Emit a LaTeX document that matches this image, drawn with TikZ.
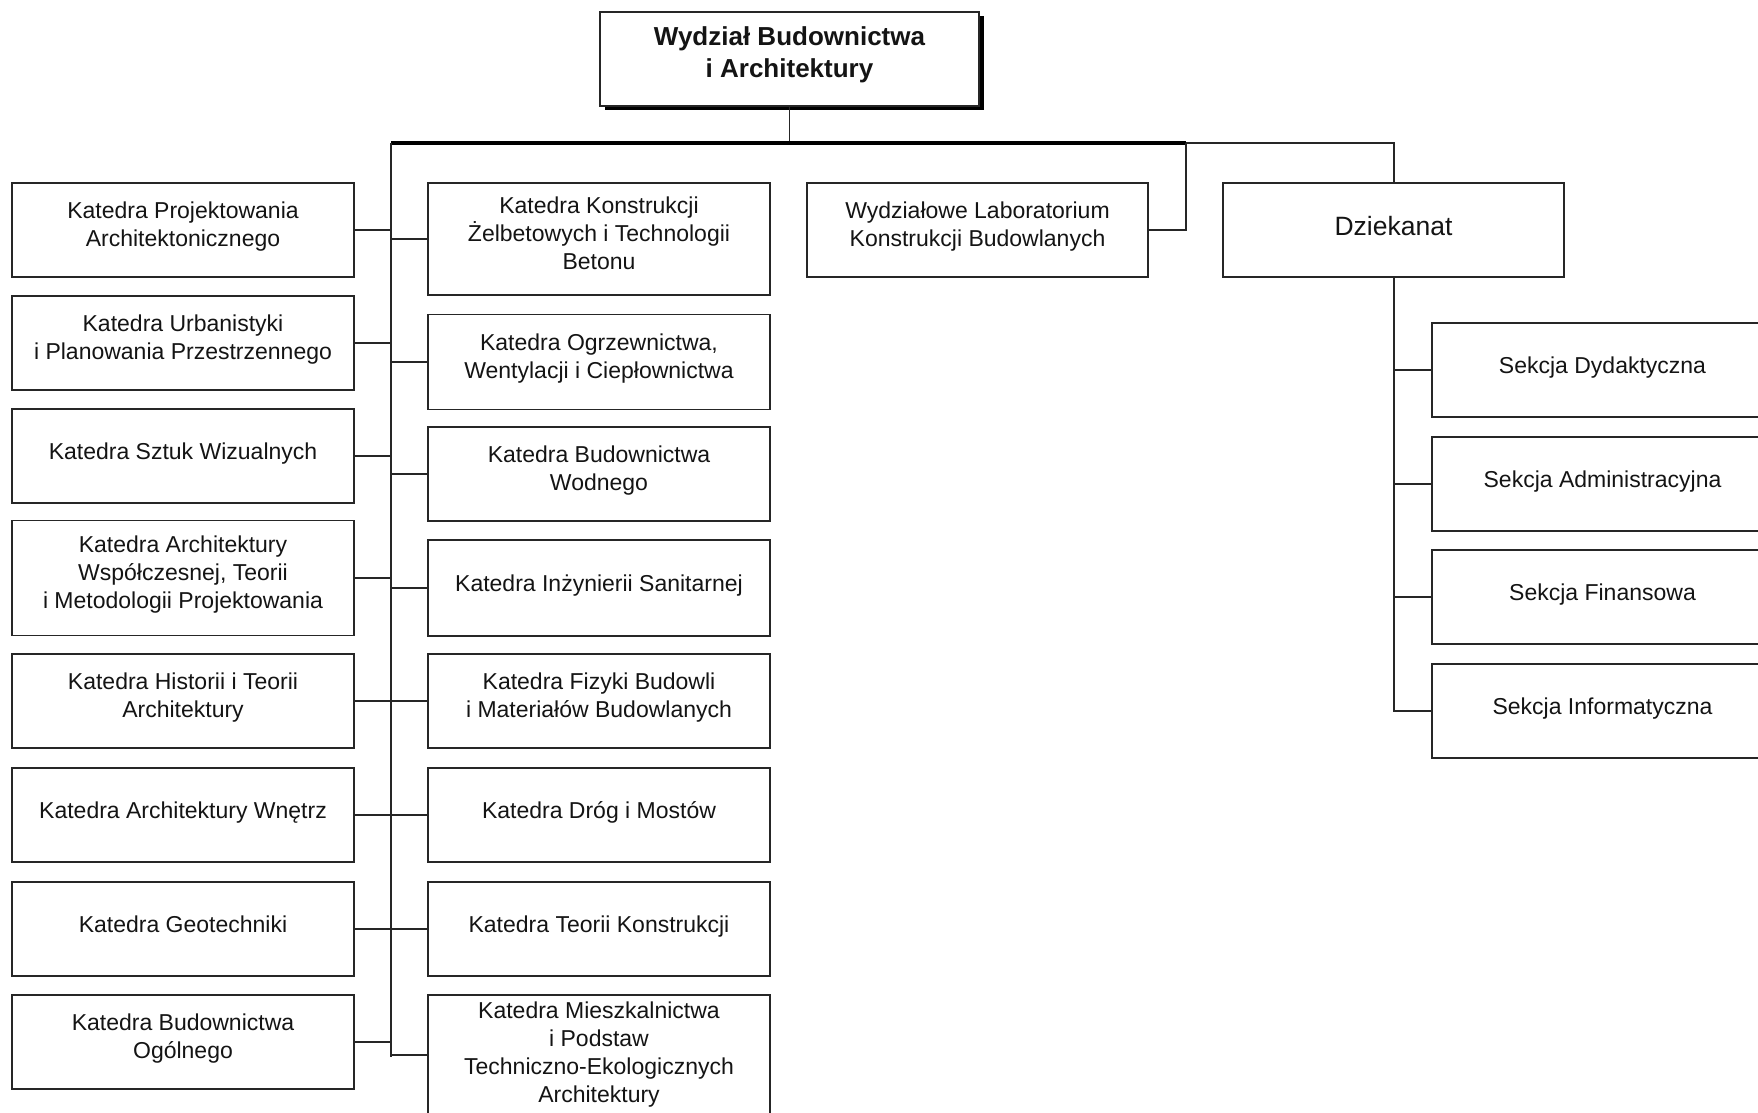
\documentclass[tikz,border=0pt]{standalone}
\usepackage{fontspec}
\setmainfont{Liberation Sans}
\usetikzlibrary{shadows}
\begin{document}
\begin{tikzpicture}[x=1pt, y=-1pt,
  unit/.style={draw=black!85, line width=1.8pt, fill=white, inner sep=0pt,
    align=center, text=black!92, font=\fontsize{23}{28}\selectfont},
  lift/.style={execute at end node={\rule[-#1]{0pt}{0pt}}},
  dept/.style={unit, minimum width=342pt, minimum height=94pt, lift=9pt},
  multi/.style={lift=11pt},
  link/.style={draw=black!85, line width=1.9pt},
  trunk/.style={draw=black, line width=3pt}]
\useasboundingbox (0,0) rectangle (1758,1113);
\clip (0,0) rectangle (1758,1113);

% faculty head
\node[unit, minimum width=379pt, minimum height=94pt, line width=1.6pt,
  font=\bfseries\fontsize{26}{32.5}\selectfont, lift=13.5pt,
  drop shadow={shadow xshift=5pt, shadow yshift=-4pt, fill=black, opacity=1}]
  (wydzial) at (789.5,59) {Wydział Budownictwa\\i Architektury};

% left column of chairs
\node[dept, multi] (L1) at (183,230) {Katedra Projektowania\\Architektonicznego};
\node[dept, multi] (L2) at (183,343) {Katedra Urbanistyki\\i Planowania Przestrzennego};
\node[dept] (L3) at (183,456) {Katedra Sztuk Wizualnych};
\node[dept, multi, minimum height=115pt] (L4) at (183,578) {Katedra Architektury\\Współczesnej, Teorii\\i Metodologii Projektowania};
\node[dept, multi] (L5) at (183,701) {Katedra Historii i Teorii\\Architektury};
\node[dept] (L6) at (183,815) {Katedra Architektury Wnętrz};
\node[dept] (L7) at (183,929) {Katedra Geotechniki};
\node[dept, multi] (L8) at (183,1042) {Katedra Budownictwa\\Ogólnego};

% middle column of chairs
\node[dept, multi, minimum height=112pt] (M1) at (599,239) {Katedra Konstrukcji\\Żelbetowych i Technologii\\Betonu};
\node[dept, multi, minimum height=95pt] (M2) at (599,362) {Katedra Ogrzewnictwa,\\Wentylacji i Ciepłownictwa};
\node[dept, multi] (M3) at (599,474) {Katedra Budownictwa\\Wodnego};
\node[dept, minimum height=96pt] (M4) at (599,588) {Katedra Inżynierii Sanitarnej};
\node[dept, multi] (M5) at (599,701) {Katedra Fizyki Budowli\\i Materiałów Budowlanych};
\node[dept] (M6) at (599,815) {Katedra Dróg i Mostów};
\node[dept] (M7) at (599,929) {Katedra Teorii Konstrukcji};
\node[dept, lift=0pt, minimum height=124pt] (M8) at (599,1057) {Katedra Mieszkalnictwa\\i Podstaw\\Techniczno-Ekologicznych\\Architektury};

% laboratory and dean's office
\node[dept, multi, minimum width=341pt] (lab) at (977.5,230) {Wydziałowe Laboratorium\\Konstrukcji Budowlanych};
\node[dept, minimum width=341pt, lift=4.4pt, font=\fontsize{26.5}{30}\selectfont] (dziekanat) at (1393.5,230) {Dziekanat};

% sections of the dean's office
\node[dept, lift=4.8pt, minimum width=341pt] (S1) at (1602.5,370) {Sekcja Dydaktyczna};
\node[dept, lift=4.8pt, minimum width=341pt] (S2) at (1602.5,484) {Sekcja Administracyjna};
\node[dept, lift=4.8pt, minimum width=341pt] (S3) at (1602.5,597) {Sekcja Finansowa};
\node[dept, lift=4.8pt, minimum width=341pt] (S4) at (1602.5,711) {Sekcja Informatyczna};

% distribution points
\coordinate (bus) at (391,143);
\coordinate (labjoin) at (1186,143);
\coordinate (dzjoin) at (1394,143);

% head to the distribution bar
\draw[link] (wydzial.south) -- (wydzial.south |- bus);
\draw[trunk] (bus) -- (labjoin);
\draw[link] (labjoin) -- (dzjoin) -- (dzjoin |- dziekanat.north);
\draw[link] (lab.east) -| (labjoin);

% vertical bus of the chairs
\draw[link] (bus) -- (bus |- M8.west);
\foreach \n in {L1,L2,L3,L4,L5,L6,L7,L8}
  \draw[link] (\n.east) -- (\n.east -| bus);
\foreach \n in {M1,M2,M3,M4,M5,M6,M7}
  \draw[link] (\n.west) -- (\n.west -| bus);
\draw[link] (bus |- 0,1055) coordinate (busend) -- (M8.west |- busend);

% dean's office sections
\draw[link] (dzjoin |- dziekanat.south) |- (S4.west);
\foreach \n in {S1,S2,S3}
  \draw[link] (\n.west -| dzjoin) -- (\n.west);
\end{tikzpicture}
\end{document}
